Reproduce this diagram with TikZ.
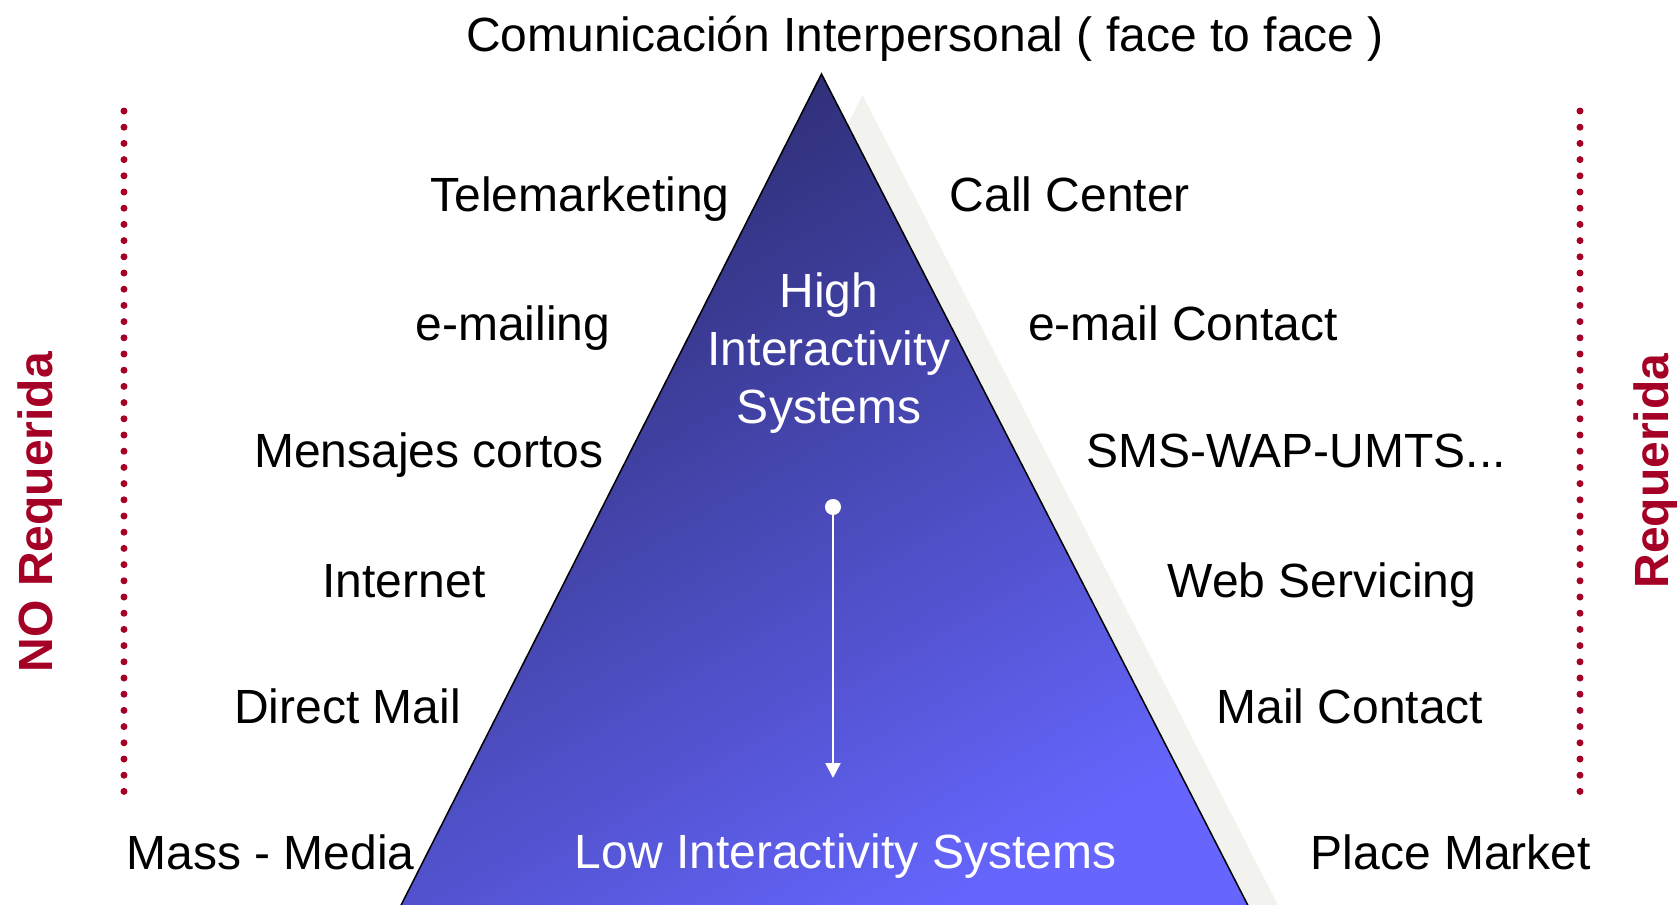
\documentclass[tikz,border=0pt]{standalone}
\usepackage{fontspec}
\setmainfont{Liberation Sans}
\usetikzlibrary{arrows.meta}

\definecolor{reqred}{RGB}{165,0,38}
\definecolor{tridark}{RGB}{44,44,112}
\definecolor{trilight}{RGB}{102,102,255}
\definecolor{shadowgray}{RGB}{242,242,238}

\tikzset{
    label text/.style={anchor=base, inner sep=0pt, text=black,
        font=\fontsize{24pt}{28.85pt}\selectfont},
    white text/.style={label text, text=white, align=center},
    req label/.style={anchor=base, rotate=90, inner sep=0pt, text=reqred,
        font=\fontsize{24pt}{28.85pt}\selectfont\bfseries},
    dotline/.style={reqred, line width=3.5pt, line cap=round,
        dash pattern=on 0pt off 8.1pt},
}

\begin{document}
\begin{tikzpicture}[x=0.5pt, y=-0.5pt]
        \useasboundingbox (0,0) rectangle (1677,905);
        \begin{scope}
            \clip (0,0) rectangle (1677,905);
            \coordinate (apex) at (821.5,74);
            \coordinate (bl) at (391,925);
            \coordinate (br) at (1258,925);
            \fill[shadowgray] ([shift={(41,21)}]apex) -- ([shift={(41,21)}]br)
                -- ([shift={(41,21)}]bl) -- cycle;
            \shadedraw[top color=tridark, bottom color=trilight, shading angle=30,
                draw=black, line width=0.75pt] (apex) -- (br) -- (bl) -- cycle;
        \end{scope}

        \node[label text] (title) at (925,51) {Comunicación Interpersonal ( face to face )};

        \node[label text] (tele) at (580,211.6) {Telemarketing};
        \node[label text] (emailing) at (513,340) {e-mailing};
        \node[label text] (cortos) at (429,467) {Mensajes cortos};
        \node[label text] (internet) at (404,597) {Internet};
        \node[label text] (direct) at (347.6,723) {Direct Mail};
        \node[label text] (mass) at (270.6,869) {Mass - Media};

        \node[label text] (callc) at (1070,211.6) {Call Center};
        \node[label text] (emailc) at (1183,340) {e-mail Contact};
        \node[label text] (wap) at (1296,467) {SMS-WAP-UMTS...};
        \node[label text] (web) at (1322,597) {Web Servicing};
        \node[label text] (mailc) at (1350,723) {Mail Contact};
        \node[label text] (place) at (1451,869) {Place Market};

        \node[white text, anchor=center] (high) at (829,353) {High\\Interactivity\\Systems};
        \node[white text] (low) at (845.5,868.4) {Low Interactivity Systems};

        \coordinate (hi) at (833,499);
        \coordinate (lo) at (833,778);
        \draw[white, line width=1.15pt,
            {Circle[length=8pt]}-{Triangle[length=7.5pt, width=7.5pt]}] (hi) -- (lo);

        \coordinate (ltop) at (124,111);
        \coordinate (lbot) at (124,796);
        \coordinate (rtop) at (1580,111);
        \coordinate (rbot) at (1580,796);
        \draw[dotline] (ltop) -- (lbot);
        \draw[dotline] (rtop) -- (rbot);

        \node[req label] (noreq) at (52,512) {NO Requerida};
        \node[req label] (req) at (1668,471) {Requerida};
\end{tikzpicture}
\end{document}
